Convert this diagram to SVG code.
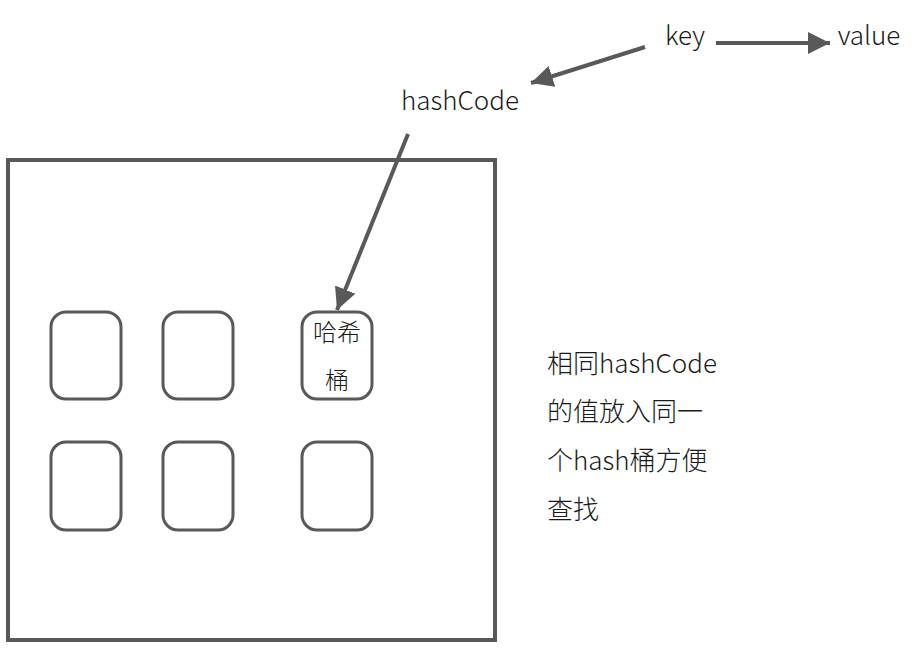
<svg xmlns="http://www.w3.org/2000/svg" width="916" height="648" viewBox="0 0 916 648">
<defs>
<style>
.t{font-family:"Noto Sans CJK SC","Noto Sans",sans-serif;font-size:26px;font-weight:300;fill:#1a1a1a}
.s{font-family:"Noto Sans CJK SC","Noto Sans",sans-serif;font-size:24px;font-weight:300;fill:#1a1a1a}
.box{fill:#fff;stroke:#595959;stroke-width:3}
.frame{fill:#fff;stroke:#595959;stroke-width:4}
.c{fill:none;stroke:#595959;stroke-width:4}
</style>
<marker id="ah" viewBox="0 0 10 10" refX="10" refY="5" markerWidth="5.5" markerHeight="5.5" orient="auto" markerUnits="strokeWidth">
<path d="M0,0 L10,5 L0,10 z" fill="#595959"/>
</marker>
</defs>
<rect width="916" height="648" fill="#fff"/>
<g id="frame"><rect class="frame" x="8" y="160" width="487" height="480"/></g>
<g id="b1"><rect class="box" x="51" y="312" width="70" height="87" rx="15"/></g>
<g id="b2"><rect class="box" x="163" y="312" width="70" height="87" rx="15"/></g>
<g id="b3"><rect class="box" x="302" y="312" width="70" height="87" rx="15"/>
<text class="s" x="337" y="341" text-anchor="middle">哈希</text>
<text class="s" x="337" y="389" text-anchor="middle">桶</text></g>
<g id="b4"><rect class="box" x="51" y="442" width="70" height="88" rx="15"/></g>
<g id="b5"><rect class="box" x="163" y="442" width="70" height="88" rx="15"/></g>
<g id="b6"><rect class="box" x="302" y="442" width="70" height="88" rx="15"/></g>
<g id="key"><text class="t" x="685" y="45" text-anchor="middle">key</text></g>
<g id="value"><text class="t" x="869" y="45" text-anchor="middle">value</text></g>
<g id="hashCode"><text class="t" x="460" y="110" text-anchor="middle">hashCode</text></g>
<g id="note">
<text class="t" x="547" y="373">相同hashCode</text>
<text class="t" x="547" y="421">的值放入同一</text>
<text class="t" x="547" y="470">个hash桶方便</text>
<text class="t" x="547" y="519">查找</text>
</g>
<g id="connectors">
<line class="c" x1="716" y1="43" x2="830" y2="43" marker-end="url(#ah)"/>
<line class="c" x1="645" y1="47" x2="531" y2="83" marker-end="url(#ah)"/>
<line class="c" x1="408" y1="134" x2="337" y2="310" marker-end="url(#ah)"/>
</g>
</svg>
